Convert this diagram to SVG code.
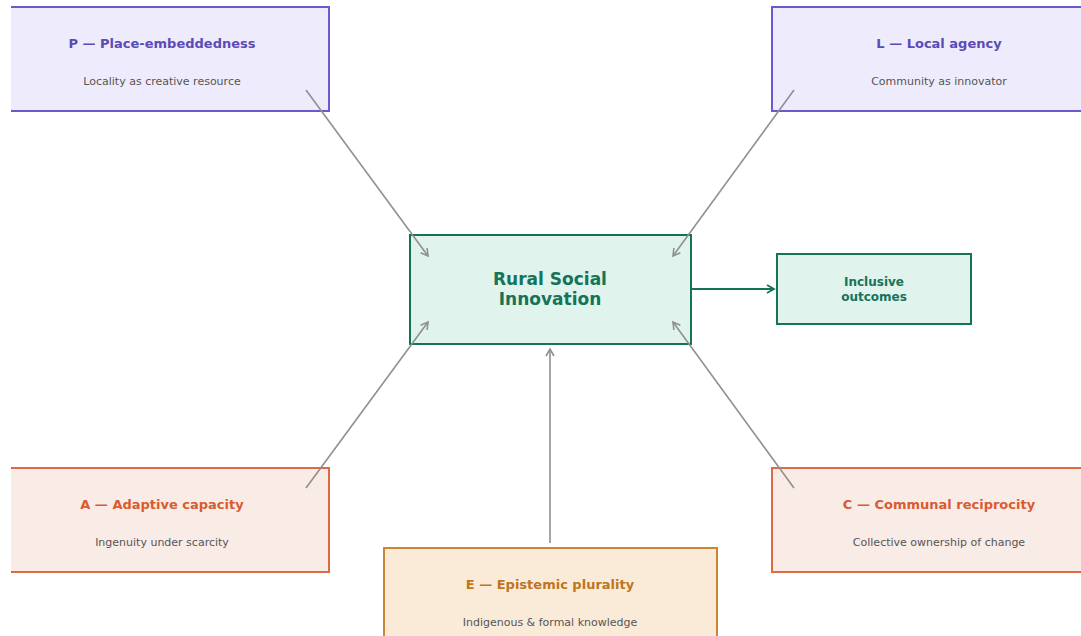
<svg xmlns="http://www.w3.org/2000/svg" width="1081" height="636" viewBox="0 0 1081 636">
<style>
text{font-family:"DejaVu Sans",sans-serif;text-anchor:middle}
.t{font-weight:bold;font-size:13px}
.s{font-size:11px;fill:#555}
.pl .bg{fill:#eeecfc}.pl .bd{stroke:#6a5acd}
.pl .t{fill:#5a4bb5}
.or .bg{fill:#f9ebe6}.or .bd{stroke:#dd6a42}
.or .t{fill:#d95b30}
.am rect{fill:#faebd8;stroke:#cc8530;stroke-width:2}
.am .t{fill:#c07420}
.bd{fill:none;stroke-width:2}
.gr rect{fill:#e0f3ec;stroke:#15735a;stroke-width:2}
.gr text{fill:#15735a;font-weight:bold}
.c{stroke:#909090;stroke-width:1.6;fill:none;marker-end:url(#ag)}
</style>
<defs>
<marker id="ag" markerWidth="10" markerHeight="10" refX="8" refY="5" orient="auto" markerUnits="userSpaceOnUse"><path d="M1,1 L8,5 L1,9" fill="none" stroke="#909090" stroke-width="1.6"/></marker>
<marker id="ak" markerWidth="10" markerHeight="10" refX="8" refY="5" orient="auto" markerUnits="userSpaceOnUse"><path d="M1,1 L8,5 L1,9" fill="none" stroke="#15735a" stroke-width="1.8"/></marker>
</defs>
<rect width="1081" height="636" fill="#fff"/>
<g id="nodeP" class="pl"><rect class="bg" x="11" y="7" width="318" height="104"/><path class="bd" d="M11,7 H329 V111 H11"/><text class="t" x="162" y="48">P — Place-embeddedness</text><text class="s" x="162" y="85">Locality as creative resource</text></g>
<g id="nodeL" class="pl"><rect class="bg" x="772" y="7" width="318" height="104"/><path class="bd" d="M1090,7 H772 V111 H1090"/><text class="t" x="939" y="48">L — Local agency</text><text class="s" x="939" y="85">Community as innovator</text></g>
<g id="nodeA" class="or"><rect class="bg" x="11" y="468" width="318" height="104"/><path class="bd" d="M11,468 H329 V572 H11"/><text class="t" x="162" y="509">A — Adaptive capacity</text><text class="s" x="162" y="546">Ingenuity under scarcity</text></g>
<g id="nodeC" class="or"><rect class="bg" x="772" y="468" width="318" height="104"/><path class="bd" d="M1090,468 H772 V572 H1090"/><text class="t" x="939" y="509">C — Communal reciprocity</text><text class="s" x="939" y="546">Collective ownership of change</text></g>
<g id="nodeE" class="am"><rect x="384" y="548" width="333" height="104"/><text class="t" x="550" y="589">E — Epistemic plurality</text><text class="s" x="550" y="626">Indigenous &amp; formal knowledge</text></g>
<g id="center" class="gr"><rect x="410" y="235" width="281" height="109"/><text x="550" y="285" font-size="17">Rural Social</text><text x="550" y="305" font-size="17">Innovation</text></g>
<g id="outcome" class="gr"><rect x="777" y="254" width="194" height="70"/><text x="874" y="286" font-size="12">Inclusive</text><text x="874" y="301" font-size="12">outcomes</text></g>
<g id="connectors">
<line class="c" x1="306" y1="90" x2="428" y2="256"/>
<line class="c" x1="794" y1="90" x2="673" y2="256"/>
<line class="c" x1="306" y1="488" x2="428" y2="322"/>
<line class="c" x1="794" y1="488" x2="673" y2="322"/>
<line class="c" x1="550" y1="543" x2="550" y2="349"/>
<line x1="692" y1="289" x2="774" y2="289" stroke="#15735a" stroke-width="1.8" marker-end="url(#ak)"/>
</g>
</svg>
